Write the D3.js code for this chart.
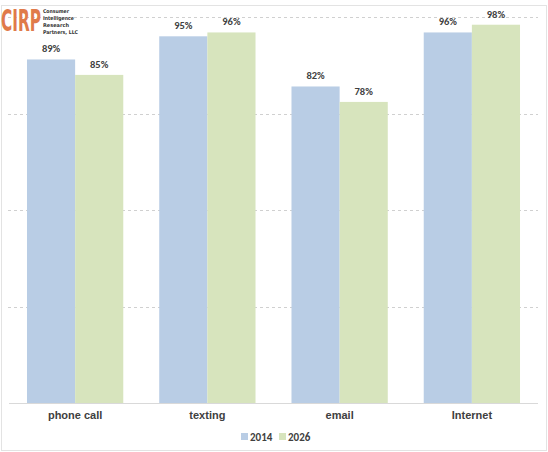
<!DOCTYPE html>
<html>
<head>
<meta charset="utf-8">
<script src="https://cdn.jsdelivr.net/npm/d3@7"></script>
<style>
  body { margin: 0; background: #fff; }
  svg { display: block; font-family: Calibri, Carlito, "Open Sans", "Liberation Sans", sans-serif; }
</style>
</head>
<body>
<svg id="svg" width="548" height="452"></svg>
<script>
const categories = ["phone call", "texting", "email", "Internet"]
const years = ["2014", "2026"]
const values2014 = [89, 95, 82, 96]
const values2026 = [85, 96, 78, 98]
const yTicks = [0, 25, 50, 75, 100]

const colors = ["#b9cde5", "#d7e4bd"]

const svg = d3.select("#svg")
const width = 548, height = 452
const margin = {top: 17, right: 10, bottom: 49, left: 9}

// chart border
svg.append("rect")
    .attr("x", 1.5).attr("y", 5.5)
    .attr("width", width - 3).attr("height", height - 7)
    .attr("fill", "none")
    .attr("stroke", "#e3e3e3")

const x = d3.scaleBand()
    .domain(categories)
    .range([margin.left, width - margin.right])
    .paddingInner(0.272)
    .paddingOuter(0.136)

const xInner = d3.scaleBand()
    .domain(years)
    .range([0, x.bandwidth()])

const y = d3.scaleLinear()
    .domain([0, 100])
    .range([height - margin.bottom, margin.top])

// dashed gridlines
svg.append("g")
  .selectAll("line")
  .data(yTicks.filter(d => d > 0))
  .join("line")
    .attr("x1", margin.left - 1)
    .attr("x2", width - margin.right)
    .attr("y1", d => Math.round(y(d)) + 0.5)
    .attr("y2", d => Math.round(y(d)) + 0.5)
    .attr("stroke", "#d0d0d0")
    .attr("stroke-dasharray", "3,3")

const rows = categories.map((c, i) => ({
  cat: c,
  vals: [{year: years[0], v: values2014[i]}, {year: years[1], v: values2026[i]}]
}))

const groups = svg.append("g")
  .selectAll("g")
  .data(rows)
  .join("g")
    .attr("transform", d => `translate(${x(d.cat)},0)`)

groups.selectAll("rect")
  .data(d => d.vals)
  .join("rect")
    .attr("x", d => xInner(d.year))
    .attr("width", xInner.bandwidth())
    .attr("y", d => y(d.v))
    .attr("height", d => y(0) - y(d.v))
    .attr("fill", (d, i) => colors[i])

groups.selectAll("text")
  .data(d => d.vals)
  .join("text")
    .attr("x", d => xInner(d.year) + xInner.bandwidth() / 2)
    .attr("y", d => y(d.v) - 7)
    .attr("text-anchor", "middle")
    .attr("font-size", 10.5)
    .attr("font-weight", "bold")
    .attr("fill", "#404040")
    .text(d => d.v + "%")

// baseline
svg.append("line")
    .attr("x1", margin.left).attr("x2", width - margin.right)
    .attr("y1", y(0) + 0.5).attr("y2", y(0) + 0.5)
    .attr("stroke", "#d9d9d9")

// x axis labels
const xAxis = svg.append("g")
    .attr("transform", `translate(0,${y(0)})`)
    .call(d3.axisBottom(x).tickSize(0).tickPadding(8))
xAxis.select(".domain").remove()
xAxis.selectAll("text")
    .attr("font-size", 11)
    .attr("font-weight", "bold")
    .attr("fill", "#404040")
    .style("font-family", "inherit")

// legend
const legend = svg.append("g").attr("transform", "translate(241,437)")
const legendItems = legend.selectAll("g")
  .data(years)
  .join("g")
    .attr("transform", (d, i) => `translate(${i * 38},0)`)
legendItems.append("rect")
    .attr("x", 0).attr("y", -4)
    .attr("width", 7).attr("height", 7)
    .attr("fill", (d, i) => colors[i])
legendItems.append("text")
    .attr("x", 9).attr("y", 4)
    .attr("font-size", 11)
    .attr("font-weight", "bold")
    .attr("fill", "#404040")
    .text(d => d)

// CIRP logo - small font stretched tall so its box stays left of the sub text
const logo = svg.append("g")
logo.append("text")
    .attr("transform", "translate(1,31) scale(1,1.75)")
    .attr("font-family", "'DejaVu Sans Condensed', sans-serif")
    .attr("font-weight", "bold")
    .attr("font-size", 17)
    .attr("textLength", 40)
    .attr("lengthAdjust", "spacingAndGlyphs")
    .attr("fill", "#e07a4a")
    .text("CIRP")
const subLines = ["Consumer", "Intelligence", "Research", "Partners, LLC"]
const subWidths = [26, 31, 26, 35]
logo.selectAll("text.sub")
  .data(subLines)
  .join("text")
    .attr("class", "sub")
    .attr("x", 43)
    .attr("y", (d, i) => 13 + i * 7)
    .attr("font-family", "'DejaVu Sans Condensed', sans-serif")
    .attr("font-weight", "bold")
    .attr("font-size", 5.2)
    .attr("textLength", (d, i) => subWidths[i])
    .attr("lengthAdjust", "spacingAndGlyphs")
    .attr("fill", "#333")
    .text(d => d)
</script>
</body>
</html>
